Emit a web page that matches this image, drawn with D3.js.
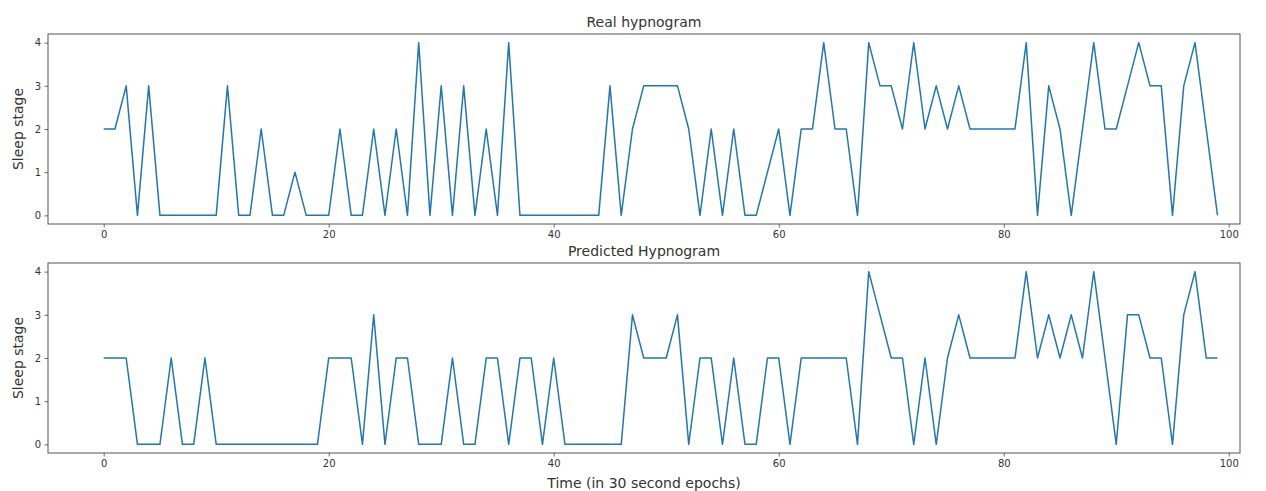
<!DOCTYPE html>
<html>
<head>
<meta charset="utf-8">
<script src="https://cdn.jsdelivr.net/npm/d3@7"></script>
<style>
  body { margin: 0; background: #fff; }
  text { font-family: "DejaVu Sans", sans-serif; fill: #333; }
</style>
</head>
<body>
<div id="chart"></div>
<script>
// sleep stages per 30 s epoch
var realStages = [2,2,3,0,3,0,0,0,0,0, 0,3,0,0,2,0,0,1,0,0,
  0,2,0,0,2,0,2,0,4,0, 3,0,3,0,2,0,4,0,0,0,
  0,0,0,0,0,3,0,2,3,3, 3,3,2,0,2,0,2,0,0,1,
  2,0,2,2,4,2,2,0,4,3, 3,2,4,2,3,2,3,2,2,2,
  2,2,4,0,3,2,0,2,4,2, 2,3,4,3,3,0,3,4,2,0];
var predStages = [2,2,2,0,0,0,2,0,0,2, 0,0,0,0,0,0,0,0,0,0,
  2,2,2,0,3,0,2,2,0,0, 0,2,0,0,2,2,0,2,2,0,
  2,0,0,0,0,0,0,3,2,2, 2,3,0,2,2,0,2,0,0,2,
  2,0,2,2,2,2,2,0,4,3, 2,2,0,2,0,2,3,2,2,2,
  2,2,4,2,3,2,3,2,4,2, 0,3,3,2,2,0,3,4,2,2];
var xTicks = [0, 20, 40, 60, 80, 100];
var yTicks = [0, 1, 2, 3, 4];
var titles = ["Real hypnogram", "Predicted Hypnogram"];

var width = 1266, height = 491;
var svg = d3.select("#chart").append("svg")
  .attr("width", width)
  .attr("height", height);

var left = 48, right = 1240;
var panels = [
  {top: 34, bottom: 224, data: realStages, title: titles[0]},
  {top: 263, bottom: 453, data: predStages, title: titles[1]}
];

var x = d3.scaleLinear()
  .domain([-4.95, 101.0])
  .range([left, right]);

panels.forEach(function(p) {
  var y = d3.scaleLinear()
    .domain([-0.2, 4.2])
    .range([p.bottom, p.top]);

  var g = svg.append("g");

  // axes
  var xa = g.append("g")
    .attr("transform", "translate(0," + p.bottom + ")")
    .call(d3.axisBottom(x).tickValues(xTicks).tickSize(3.5).tickPadding(3.5));
  var ya = g.append("g")
    .attr("transform", "translate(" + left + ",0)")
    .call(d3.axisLeft(y).tickValues(yTicks).tickFormat(d3.format("d")).tickSize(3.5).tickPadding(3.5));
  [xa, ya].forEach(function(a) {
    a.select(".domain").remove();
    a.selectAll("line").attr("stroke", "#444").attr("stroke-width", 0.8);
    a.selectAll("text").style("font-size", "10px").attr("fill", "#333");
  });

  // line
  var line = d3.line()
    .x(function(d, i) { return x(i); })
    .y(function(d) { return y(d); });
  g.append("path")
    .datum(p.data)
    .attr("fill", "none")
    .attr("stroke", "#1f77b4")
    .attr("stroke-width", 1.5)
    .attr("stroke-linejoin", "round")
    .attr("d", line);

  // frame
  g.append("rect")
    .attr("x", left).attr("y", p.top)
    .attr("width", right - left).attr("height", p.bottom - p.top)
    .attr("fill", "none")
    .attr("stroke", "#555")
    .attr("stroke-width", 1);

  // title
  g.append("text")
    .attr("x", (left + right) / 2)
    .attr("y", p.top - 7)
    .attr("text-anchor", "middle")
    .style("font-size", "14px")
    .text(p.title);

  // y label
  g.append("text")
    .attr("transform", "translate(23," + ((p.top + p.bottom) / 2) + ")rotate(-90)")
    .attr("text-anchor", "middle")
    .style("font-size", "14px")
    .text("Sleep stage");
});

svg.append("text")
  .attr("x", (left + right) / 2)
  .attr("y", 488)
  .attr("text-anchor", "middle")
  .style("font-size", "14px")
  .text("Time (in 30 second epochs)");
</script>
</body>
</html>
